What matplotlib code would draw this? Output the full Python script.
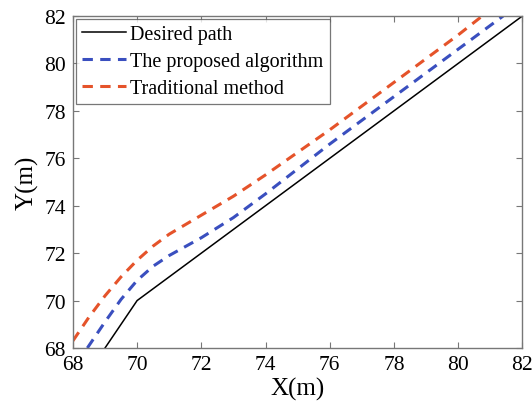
import matplotlib
matplotlib.use('Agg')
import matplotlib.pyplot as plt

# desired path
desired_x = [69.0, 70.0, 82.0]
desired_y = [68.0, 70.0, 82.0]

# the proposed algorithm
proposed_x = [68.45, 69.0, 69.5, 70.0, 70.5, 71.0, 72.0, 73.0, 74.0, 76.0, 78.0, 80.0, 81.4]
proposed_y = [68.0, 69.1, 70.05, 70.85, 71.45, 71.9, 72.65, 73.5, 74.5, 76.6, 78.6, 80.6, 82.0]

# traditional method
trad_x = [68.0, 68.5, 69.0, 69.5, 70.0, 70.5, 71.0, 72.0, 73.0, 74.0, 76.0, 78.0, 80.0, 80.75]
trad_y = [68.3, 69.3, 70.2, 71.0, 71.7, 72.3, 72.8, 73.6, 74.4, 75.3, 77.2, 79.2, 81.2, 82.0]

ticks = [68, 70, 72, 74, 76, 78, 80, 82]

plt.rcParams['font.family'] = ['Liberation Serif', 'DejaVu Serif']

fig = plt.figure(figsize=(5.32, 4.14), dpi=100)
ax = fig.add_axes([0.137, 0.157, 0.845, 0.802])

ax.plot(desired_x, desired_y, color='black', linewidth=1.1, label='Desired path')
ax.plot(proposed_x, proposed_y, color='#3a4fbf', linewidth=2.2, dashes=(3.4, 2.4),
        label='The proposed algorithm')
ax.plot(trad_x, trad_y, color='#e5532a', linewidth=2.2, dashes=(3.4, 2.4),
        label='Traditional method')

ax.set_xlim(68, 82)
ax.set_ylim(68, 82)
ax.set_xticks(ticks)
ax.set_yticks(ticks)
ax.tick_params(direction='in', top=True, right=True, length=4, width=0.8,
               color='#777777', labelsize=15.5, pad=5)
for s in ax.spines.values():
    s.set_color('#777777')
    s.set_linewidth(1.0)

ax.set_xlabel('X(m)', fontsize=18, labelpad=2)
ax.set_ylabel('Y(m)', fontsize=18, labelpad=4)

leg = ax.legend(loc='upper left', fontsize=14.5, frameon=True, fancybox=False,
                edgecolor='#555555', borderaxespad=0.15, handlelength=2.2,
                handletextpad=0.2, labelspacing=0.4, borderpad=0.3)
leg.get_frame().set_linewidth(0.9)

fig.savefig('out.png', dpi=100)
